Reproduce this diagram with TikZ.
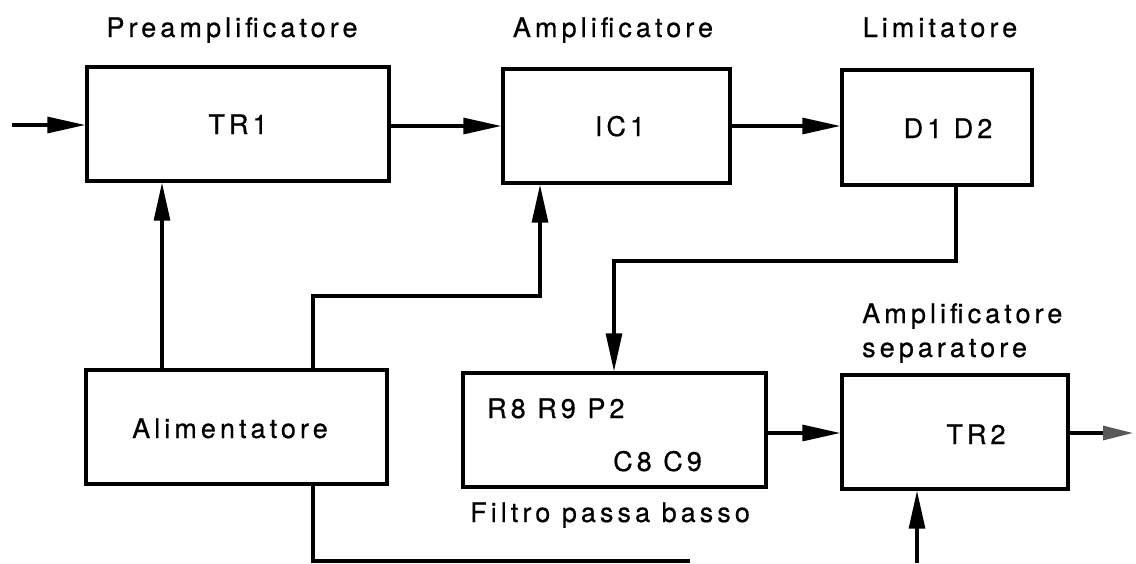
\documentclass[tikz,border=0pt]{standalone}
\usepackage{fontspec}
\setmainfont{TeX Gyre Heros}[LetterSpace=15, FakeBold=0.6]
\usetikzlibrary{arrows.meta}

\begin{document}
\begin{tikzpicture}[x=1pt,y=-1pt,
  font=\fontsize{27}{32}\selectfont,
  box/.style={draw, rectangle, line width=3.4pt, inner sep=0pt},
  lbl/.style={inner sep=0pt, anchor=base},
  lblw/.style={inner sep=0pt, anchor=base west},
  conn/.style={line width=3.1pt},
  arr/.style={conn, -{Triangle[length=38pt,width=16pt]}},
  arrout/.style={conn, -{Triangle[length=30pt,width=14pt,color=black!65]}}]

\useasboundingbox (0,0) rectangle (1136,563);

% blocks
\node[box, minimum width=302pt, minimum height=114pt] (tr1)  at (238,124)   {};
\node[box, minimum width=227pt, minimum height=114pt] (ic1)  at (616.5,126) {};
\node[box, minimum width=190pt, minimum height=115pt] (lim)  at (937,127.5) {};
\node[box, minimum width=301pt, minimum height=114pt] (alim) at (236.5,427) {};
\node[box, minimum width=303pt, minimum height=114pt] (filt) at (614.5,430) {};
\node[box, minimum width=226pt, minimum height=114pt] (tr2)  at (955,432)   {};

% texts inside the blocks
\node[lbl]  (tr1t)  at (238,134) {TR1};
\node[lbl]  (ic1t)  at (620,136) {IC1};
\node[lbl]  (limt)  at (948,138) {D1 D2};
\node[lbl]  (alimt) at (230,438) {Alimentatore};
\node[lblw] (rt)    at (487,418) {R8 R9 P2};
\node[lblw] (ct)    at (613,471) {C8 C9};
\node[lbl]  (tr2t)  at (976,444) {TR2};

% block titles
\node[lbl]  (pre)   at (232,37)  {Preamplificatore};
\node[lbl]  (amp)   at (613,37)  {Amplificatore};
\node[lbl]  (limn)  at (940,37)  {Limitatore};
\node[lblw] (sepa)  at (862,323) {Amplificatore};
\node[lblw] (sepb)  at (862,357) {separatore};
\node[lblw] (filtn) at (470,522) {Filtro passa basso};

% routing points
\coordinate (in)   at (12,125);
\coordinate (xa)   at (162,0);
\coordinate (xb)   at (313,296);
\coordinate (xc)   at (540,296);
\coordinate (xd)   at (956,261);
\coordinate (xe)   at (614,261);
\coordinate (ya)   at (0,433);
\coordinate (out)  at (1133,433);
\coordinate (ab)   at (313,561);
\coordinate (ae)   at (690,561);
\coordinate (tb)   at (917,563);

% signal path
\draw[arr] (in) -- (tr1.west |- in);
\draw[arr] (tr1.east |- ic1.west) -- (ic1.west);
\draw[arr] (ic1.east) -- (lim.west |- ic1.east);
\draw[arr] (lim.south -| xd) -- (xd) -- (xe) -- (filt.north -| xe);
\draw[arr] (filt.east |- ya) -- (tr2.west |- ya);
\draw[arrout] (tr2.east |- ya) -- (out);

% supply lines
\draw[arr] (alim.north -| xa) -- (tr1.south -| xa);
\draw[arr] (alim.north -| xb) -- (xb) -- (xc) -- (ic1.south -| xc);
\draw[conn] (alim.south -| ab) -- (ab) -- (ae);
\draw[arr] (tb) -- (tr2.south -| tb);

\end{tikzpicture}
\end{document}
